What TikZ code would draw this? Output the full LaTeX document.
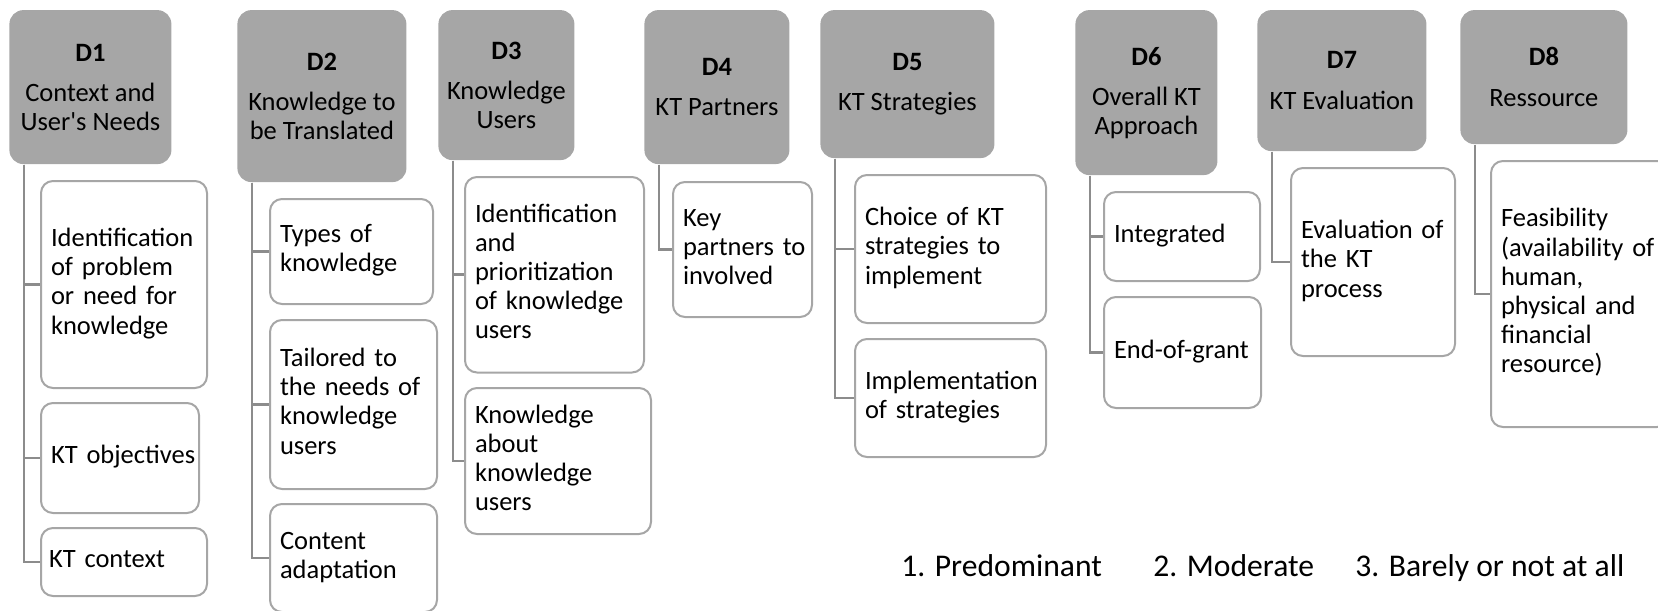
\documentclass[tikz,border=0pt]{standalone}
\usepackage{fontspec}
\setmainfont{Carlito}
\newfontfamily\rawcarlito{Carlito}[Ligatures=TeXOff]
\definecolor{hdgray}{RGB}{166,166,166}
\definecolor{kidline}{RGB}{166,166,166}
\definecolor{linkgray}{RGB}{140,140,140}
\newcommand\headfont{\fontsize{13.25}{14.25}\selectfont}
\newcommand\bodyfont{\fontsize{13.25}{14.6}\selectfont}
\newcommand\keyfont{\fontsize{15.8}{19}\selectfont}
% straight typewriter-style apostrophe
\newcommand\apos{{\rawcarlito\char"27}}
% left-aligned stack of lines that never re-wraps
\newcommand\stk[1]{\begin{tabular}{@{}l@{}}#1\end{tabular}}
\begin{document}
\begin{tikzpicture}[x=0.5pt,y=-0.5pt,
  head/.style={fill=hdgray, rounded corners=7pt, anchor=north west,
    align=center, inner sep=0pt, font=\headfont},
  kid/.style={draw=kidline, line width=1pt, fill=white, rounded corners=6pt,
    anchor=north west, align=left, inner xsep=5pt, inner ysep=0pt, font=\bodyfont},
  link/.style={draw=linkgray, line width=1.3pt},
  key/.style={anchor=base west, font=\keyfont, inner sep=0pt}]
\useasboundingbox (0,0) rectangle (1658,610);

% ---- dimension headers
\node[head, minimum width=81pt,   minimum height=77pt]   (h1) at (9,9.7)    {\textbf{D1}\\[6pt]Context and\\User\apos s Needs};
\node[head, minimum width=84.5pt, minimum height=86pt]   (h2) at (237,9.7)  {\textbf{D2}\\[6pt]Knowledge to\\be Translated};
\node[head, minimum width=68pt,   minimum height=75pt]   (h3) at (438,9.7)  {\textbf{D3}\\[6pt]Knowledge\\Users};
\node[head, minimum width=72.5pt, minimum height=77pt]   (h4) at (644,9.7)  {\textbf{D4}\\[6pt]KT Partners};
\node[head, minimum width=87pt,   minimum height=74pt]   (h5) at (820,9.7)  {\textbf{D5}\\[6pt]KT Strategies};
\node[head, minimum width=71pt,   minimum height=82.5pt] (h6) at (1075,9.7) {\textbf{D6}\\[6pt]Overall KT\\Approach};
\node[head, minimum width=84.5pt, minimum height=70.5pt] (h7) at (1257,9.7) {\textbf{D7}\\[6pt]KT Evaluation};
\node[head, minimum width=83.5pt, minimum height=67pt]   (h8) at (1460,9.7) {\textbf{D8}\\[6pt]Ressource};

% ---- D1 items
\node[kid, text width=73pt,   minimum height=103.5pt] (a1) at (40,180) {\stk{Identification\\of problem\\or need for\\knowledge}};
\node[kid, text width=69pt,   minimum height=55pt]    (a2) at (40,402) {\stk{KT objectives}};
\node[kid, text width=75pt, inner xsep=4pt, minimum height=34pt] (a3) at (40,527) {\stk{KT context}};
% ---- D2 items
\node[kid, text width=71.5pt, minimum height=52.5pt]  (b1) at (269,198) {\stk{Types of\\knowledge}};
\node[kid, text width=73.5pt, minimum height=84.5pt]  (b2) at (269,319) {\stk{Tailored to\\the needs of\\knowledge\\users}};
\node[kid, text width=73.5pt, minimum height=54pt]    (b3) at (269,503) {\stk{Content\\adaptation}};
% ---- D3 items
\node[kid, text width=79.5pt, minimum height=97.75pt] (c1) at (464,176) {\stk{Identification\\and\\prioritization\\of knowledge\\users}};
\node[kid, text width=83pt,   minimum height=73pt]    (c2) at (464,387) {\stk{Knowledge\\about\\knowledge\\users}};
% ---- D4 items
\node[kid, text width=59.5pt, minimum height=67.5pt]  (d1) at (672,181) {\stk{Key\\partners to\\involved}};
% ---- D5 items
\node[kid, text width=85.5pt, minimum height=74pt]    (e1) at (854,174) {\stk{Choice of KT\\strategies to\\implement}};
\node[kid, text width=85.5pt, minimum height=59pt]    (e2) at (854,338) {\stk{Implementation\\of strategies}};
% ---- D6 items
\node[kid, text width=68pt,   minimum height=44.5pt]  (f1) at (1103,191) {\stk{Integrated}};
\node[kid, text width=68.5pt, minimum height=55.5pt]  (f2) at (1103,296) {\stk{End-of-grant}};
% ---- D7 items
\node[kid, text width=72pt,   minimum height=94pt]    (g1) at (1290,167) {\stk{Evaluation of\\the KT\\process}};
% ---- D8 items
\node[kid, text width=79pt,   minimum height=133pt]   (k1) at (1490,160) {\stk{Feasibility\\(availability of\\human,\\physical and\\financial\\resource)}};

% ---- elbow connectors from each header to its items
\foreach \h/\k in {h1/a1,h1/a2,h1/a3,h2/b1,h2/b2,h2/b3,h3/c1,h3/c2,h4/d1,
                   h5/e1,h5/e2,h6/f1,h6/f2,h7/g1,h8/k1}
  \draw[link] ([xshift=7.5pt]\h.south west) |- (\k.west);

% ---- rating scale
\node[key] (r1) at (901,576)  {1. Predominant};
\node[key] (r2) at (1153,576) {2. Moderate};
\node[key] (r3) at (1355,576) {3. Barely or not at all};
\end{tikzpicture}
\end{document}
